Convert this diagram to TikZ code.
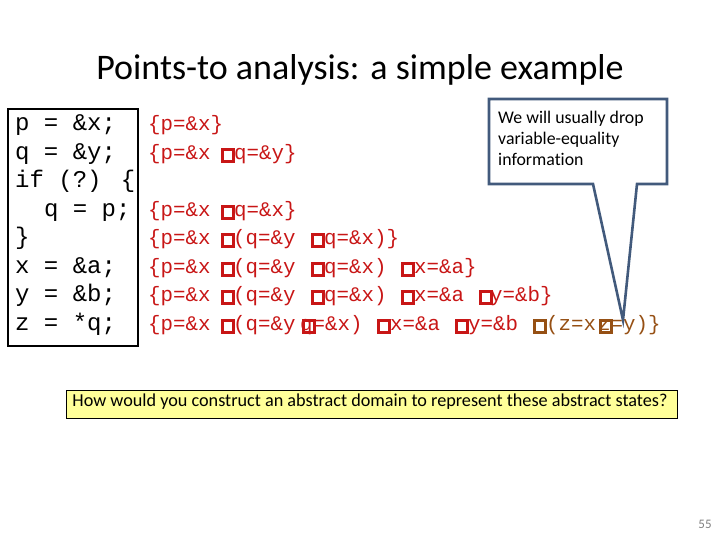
\documentclass[tikz,border=0pt]{standalone}
\usepackage{fontspec}
\setmainfont{Carlito}[Ligatures=NoCommon]
\newfontfamily\codefont{Liberation Mono}
\definecolor{stred}{RGB}{200,22,22}
\definecolor{stbrown}{RGB}{150,80,20}
\definecolor{callblue}{RGB}{66,90,124}
\definecolor{qyellow}{RGB}{255,255,153}
\tikzset{
  code/.style={anchor=mid west, inner sep=0pt, font=\codefont\fontsize{24}{24}\selectfont},
  st/.style={anchor=mid west, inner sep=0pt, text=stred, font=\codefont\fontsize{20.8}{20.8}\selectfont},
  stb/.style={st, text=stbrown},
  tofu/.style={anchor=west, draw=stred, line width=2.8pt, minimum width=10.6pt, minimum height=12.4pt, inner sep=0pt},
  tofub/.style={tofu, draw=stbrown},
  calltext/.style={anchor=mid west, inner sep=0pt, font=\fontsize{17.8}{17.8}\selectfont}
}
\begin{document}
\begin{tikzpicture}[x=1pt,y=-1pt]
\useasboundingbox (0,0) rectangle (720,540);
% title
\node[font=\fontsize{36}{36}\selectfont, anchor=base] (title) at (360,80) {Points-to analysis: a simple example};
% code box
\draw[line width=1.1pt] (8,109) rectangle (138,346);
\node[code] (c1) at (15,128) {p = \&x;};
\node[code] (c2) at (15,157) {q = \&y;};
\node[code] (c3) at (15,185) {if (?) \{};
\node[code] (c4) at (15,214) {\ \ q = p;};
\node[code] (c5) at (15,242) {\}};
\node[code] (c6) at (15,271) {x = \&a;};
\node[code] (c7) at (15,299) {y = \&b;};
\node[code] (c8) at (15,328) {z = *q;};
% states
\node[st] (s1a) at (148,128) {\{p=\&x\}};
%
\node[st] (s2a) at (148,157) {\{p=\&x};
\node[tofu] (s2b) at (221.4,155.5) {};
\node[st] (s2c) at (234,157) {q=\&y\}};
%
\node[st] (s4a) at (148,214) {\{p=\&x};
\node[tofu] (s4b) at (221.4,212.5) {};
\node[st] (s4c) at (234,214) {q=\&x\}};
%
\node[st] (s5a) at (148,242) {\{p=\&x};
\node[tofu] (s5b) at (221.4,240.5) {};
\node[st] (s5c) at (233,242) {(q=\&y};
\node[tofu] (s5d) at (311.4,240.5) {};
\node[st] (s5e) at (324,242) {q=\&x)\}};
%
\node[st] (s6a) at (148,271) {\{p=\&x};
\node[tofu] (s6b) at (221.4,269.5) {};
\node[st] (s6c) at (233,271) {(q=\&y};
\node[tofu] (s6d) at (311.4,269.5) {};
\node[st] (s6e) at (324,271) {q=\&x)};
\node[tofu] (s6f) at (401.4,269.5) {};
\node[st] (s6g) at (414,271) {x=\&a\}};
%
\node[st] (s7a) at (148,299) {\{p=\&x};
\node[tofu] (s7b) at (221.4,297.5) {};
\node[st] (s7c) at (233,299) {(q=\&y};
\node[tofu] (s7d) at (311.4,297.5) {};
\node[st] (s7e) at (324,299) {q=\&x)};
\node[tofu] (s7f) at (401.4,297.5) {};
\node[st] (s7g) at (414,299) {x=\&a};
\node[tofu] (s7h) at (479.4,297.5) {};
\node[st] (s7i) at (490,299) {y=\&b\}};
%
\node[st] (s8a) at (148,328) {\{p=\&x};
\node[tofu] (s8b) at (221.4,326.5) {};
\node[st] (s8c) at (233,328) {(q=\&y};
\node[st] (s8e) at (300,328) {q=\&x)};
\node[tofu] (s8d) at (302.4,326.5) {};
\node[tofu] (s8f) at (377.4,326.5) {};
\node[st] (s8g) at (390,328) {x=\&a};
\node[tofu] (s8h) at (455.4,326.5) {};
\node[st] (s8i) at (468,328) {y=\&b};
\node[tofub] (s8j) at (533.4,326.5) {};
\node[stb] (s8k) at (546,328) {(z=x};
\node[stb] (s8m) at (598,328) {z=y)\}};
\node[tofub] (s8l) at (599.4,326.5) {};
% callout
\coordinate (tip) at (623,320);
\draw[callblue, line width=2.6pt, fill=white, line join=miter]
  (489,99) -- (667,99) -- (667,184) -- (637,184) -- (tip) -- (593,184) -- (489,184) -- cycle;
\node[calltext] (n1) at (498,121) {We will usually drop};
\node[calltext] (n2) at (498,142) {variable-equality};
\node[calltext] (n3) at (498,163) {information};
% question box
\draw[fill=qyellow, line width=0.9pt] (66,390) rectangle (677,418);
\node[anchor=mid, inner sep=0pt, font=\fontsize{18.2}{18.2}\selectfont] (q) at (370,404) {How would you construct an abstract domain to represent these abstract states?};
% page number
\node[anchor=mid, inner sep=0pt, text=gray, font=\fontsize{13}{13}\selectfont] (pg) at (705,526) {55};
\end{tikzpicture}
\end{document}
